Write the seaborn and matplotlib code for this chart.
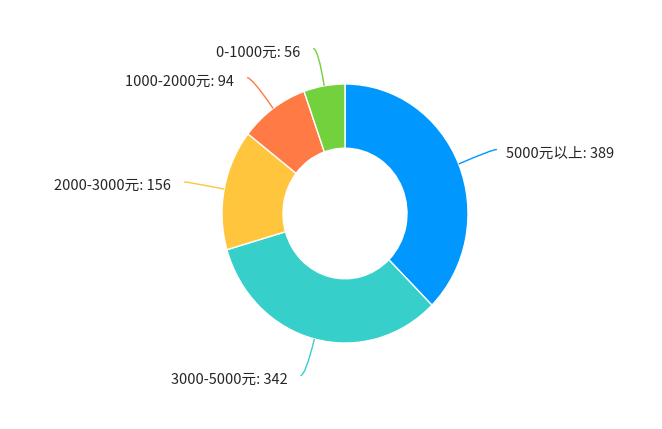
import numpy as np
import matplotlib

matplotlib.use("Agg")
import matplotlib.pyplot as plt  # noqa: E402
import seaborn as sns  # noqa: E402
from matplotlib.path import Path  # noqa: E402
from matplotlib.patches import PathPatch  # noqa: E402

# data
categories = ["5000元以上", "3000-5000元", "2000-3000元", "1000-2000元", "0-1000元"]
counts = [389, 342, 156, 94, 56]
colors = ["#0098FF", "#36CFC9", "#FFC53D", "#FF7A45", "#73D13D"]

sns.set_theme(style="white")
plt.rcParams["font.family"] = ["Noto Sans CJK SC", "DejaVu Sans"]

W, H = 662, 429
K = 1.053          # reference donut is slightly taller than wide
CX, CY = 345, 213.5
R_OUT, R_IN = 123, 62
L1, L2 = 36, 5

fig = plt.figure(figsize=(W / 100, H / 100), dpi=100)
ax = fig.add_axes([0, 0, 1, 1])
center = (CX, (H - CY) / K)

ax.pie(
    counts,
    colors=sns.color_palette(colors),
    startangle=90,
    counterclock=False,
    radius=R_OUT,
    center=center,
    wedgeprops=dict(width=R_OUT - R_IN, edgecolor="white", linewidth=1),
)
ax.set_aspect("auto")
ax.set_xlim(0, W)
ax.set_ylim(0, H / K)
ax.axis("off")

# label lines + labels
total = sum(counts)
start = 90.0
for name, val, col in zip(categories, counts, colors):
    sweep = 360.0 * val / total
    mid = np.deg2rad(start - sweep / 2)
    start -= sweep
    d = np.array([np.cos(mid), np.sin(mid)])
    p0 = np.array(center) + R_OUT * d
    p1 = np.array(center) + (R_OUT + L1) * d
    side = 1 if d[0] >= 0 else -1
    p2 = p1 + np.array([side * L2, 0])
    path = Path([p0, p1, p2], [Path.MOVETO, Path.CURVE3, Path.CURVE3])
    ax.add_patch(PathPatch(path, fill=False, edgecolor=col, linewidth=1))
    gap = 9 if side > 0 else 13
    ax.text(
        p2[0] + side * gap, p2[1] - 4 / K, f"{name}: {val}",
        ha="left" if side > 0 else "right", va="center",
        fontsize=10.5, color="#262626",
    )

fig.savefig("out.png", dpi=100)
